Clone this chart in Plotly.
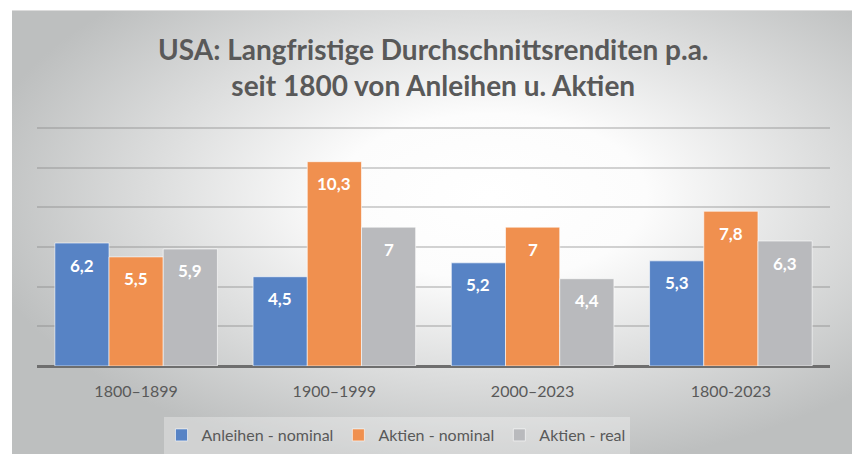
import base64
import plotly.graph_objects as go

categories = ["1800–1899", "1900–1999", "2000–2023", "1800-2023"]
series_names = ["Anleihen - nominal", "Aktien - nominal", "Aktien - real"]
anleihen_nominal = [6.2, 4.5, 5.2, 5.3]
aktien_nominal = [5.5, 10.3, 7.0, 7.8]
aktien_real = [5.9, 7.0, 4.4, 6.3]
series_values = [anleihen_nominal, aktien_nominal, aktien_real]
colors = ["#5783c5", "#f0904f", "#b9babd"]
title_lines = ["USA: Langfristige Durchschnittsrenditen p.a.", "seit 1800 von Anleihen u. Aktien"]

W, H = 852, 454
L, R, T, B = 37, 22, 124, 88
pw, ph = W - L - R, H - T - B

def px_x(p):
    return (p - L) / pw

def px_y(p):
    return (H - B - p) / ph

def label(v):
    return f"{v:g}".replace(".", ",")

svg = (
    '<svg xmlns="http://www.w3.org/2000/svg" width="840" height="444" '
    'preserveAspectRatio="none" viewBox="0 0 840 444">'
    '<defs><radialGradient id="g" cx="0.57" cy="0.42" r="0.62" fx="0.57" fy="0.42">'
    '<stop offset="0" stop-color="#ffffff"/>'
    '<stop offset="0.3" stop-color="#fcfcfc"/>'
    '<stop offset="1" stop-color="#bdbfbf"/>'
    '</radialGradient></defs>'
    '<rect x="0" y="0" width="840" height="444" fill="url(#g)"/>'
    '</svg>'
)
src = "data:image/svg+xml;base64," + base64.b64encode(svg.encode()).decode()

fig = go.Figure()
for name, vals, col in zip(series_names, series_values, colors):
    fig.add_trace(go.Bar(
        x=categories, y=vals, name=name,
        marker=dict(color=col, line=dict(color="rgba(255,255,255,0.6)", width=1)),
        hoverinfo="skip",
    ))

group_w = 0.82
bw = group_w / 3
annotations = []
for i, vals in enumerate(series_values):
    for j, v in enumerate(vals):
        annotations.append(dict(
            x=j + (i - 1) * bw, y=v, xref="x", yref="y",
            text=f"<b>{label(v)}</b>", showarrow=False,
            yshift=-22, font=dict(family="Lato", size=17, color="white"),
        ))

annotations.append(dict(
    text="<b>" + "<br>".join(title_lines) + "</b>",
    xref="paper", yref="paper", x=0.5, y=px_y(67.5),
    xanchor="center", yanchor="middle", showarrow=False,
    font=dict(family="Lato", size=28, color="#595959"),
))

fig.update_layout(
    width=W, height=H,
    margin=dict(l=L, r=R, t=T, b=B, autoexpand=False),
    paper_bgcolor="white",
    plot_bgcolor="rgba(0,0,0,0)",
    barmode="group", bargap=0.18, bargroupgap=0,
    font=dict(family="Lato", color="#595959"),
    xaxis=dict(
        showgrid=False, showline=False, ticks="", tickfont=dict(size=16, color="#595959"),
        ticklabelstandoff=14,
    ),
    yaxis=dict(
        range=[0, 12.2], tickvals=[2, 4, 6, 8, 10, 12], showticklabels=False, showgrid=True,
        gridcolor="rgba(130,130,130,0.35)", gridwidth=1.5,
        zeroline=True, zerolinecolor="#6e6e6e", zerolinewidth=3,
    ),
    legend=dict(
        orientation="h", x=px_x(396), xanchor="center", y=px_y(435), yanchor="middle",
        font=dict(size=16, color="#595959"), bgcolor="rgba(0,0,0,0)",
        itemwidth=30,
    ),
    images=[dict(
        source=src, xref="paper", yref="paper",
        x=px_x(12), y=px_y(10), sizex=px_x(W) - px_x(12), sizey=px_y(10) - px_y(H),
        xanchor="left", yanchor="top", sizing="stretch", layer="below",
    )],
    shapes=[dict(
        type="rect", xref="paper", yref="paper",
        x0=px_x(164), x1=px_x(630), y0=px_y(458), y1=px_y(417),
        fillcolor="rgba(255,255,255,0.3)", line=dict(width=0), layer="below",
    ), dict(
        type="line", xref="paper", yref="paper",
        x0=px_x(12), x1=px_x(W), y0=px_y(10.5), y1=px_y(10.5),
        line=dict(color="#dcdcdc", width=1),
    )],
    annotations=annotations,
)

fig.write_html(
    "out.html",
    config={"displayModeBar": False},
    post_script="document.body.style.margin='0';document.body.style.overflow='hidden';",
)
